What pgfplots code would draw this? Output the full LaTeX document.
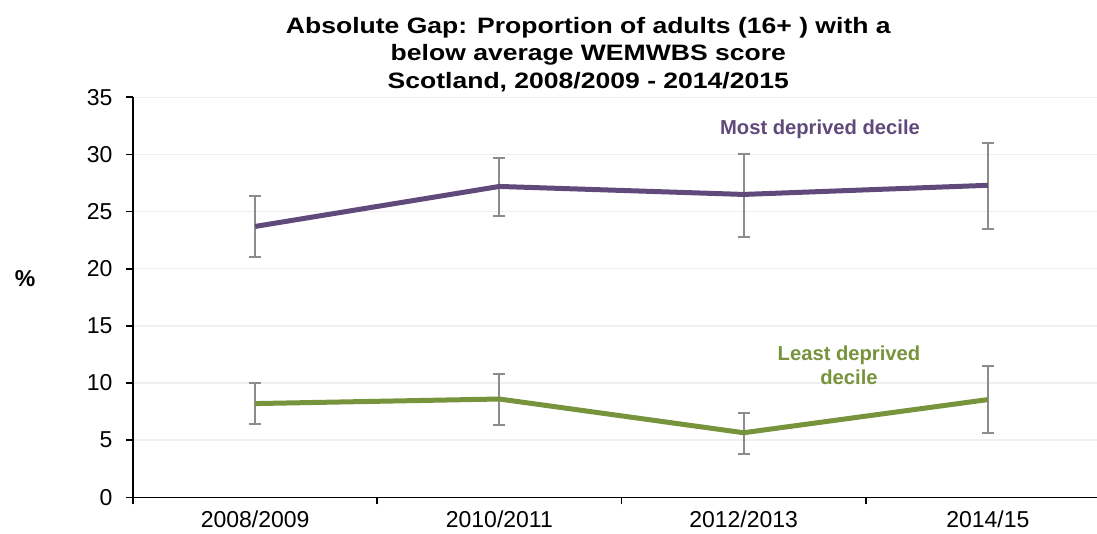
\documentclass[border=0pt]{standalone}
\usepackage{fontspec}
\setmainfont{Liberation Sans}
\newfontfamily\titlefont[FakeStretch=1.19]{Liberation Sans}
\usepackage{pgfplots}
\usepackage{pgfplotstable}
\pgfplotsset{compat=1.18}
\definecolor{mostc}{HTML}{604A7B}
\definecolor{leastc}{HTML}{77933C}
\definecolor{errc}{HTML}{8C8C8C}
\definecolor{gridc}{HTML}{EFEFEF}
\pgfplotstableread{
x y ep em
0 23.7 2.7 2.7
1 27.2 2.45 2.6
2 26.5 3.5 3.7
3 27.3 3.7 3.8
}\mostdata
\pgfplotstableread{
x y ep em
0 8.2 1.8 1.75
1 8.6 2.2 2.25
2 5.65 1.7 1.85
3 8.55 2.9 2.9
}\leastdata
\begin{document}
\begin{tikzpicture}[x=1pt,y=1pt]
\useasboundingbox (0,0) rectangle (1097,533);
\begin{axis}[
  at={(133pt,35.7pt)}, anchor=south west,
  scale only axis, width=977pt, height=400pt,
  xmin=-0.5, xmax=3.5, ymin=0, ymax=35,
  axis x line*=bottom, axis y line*=left,
  axis line style={black, line width=1.6pt},
  ytick={0,5,...,35},
  ymajorgrids, major grid style={draw=gridc, line width=1.5pt},
  xtick={-0.5,0.5,1.5,2.5,3.5}, xticklabels={},
  extra x ticks={0,1,2,3},
  extra x tick labels={2008/2009,2010/2011,2012/2013,2014/15},
  extra x tick style={major tick length=0pt, xticklabel style={yshift=-10pt}},
  tick align=outside, major tick length=7pt,
  tick style={black, line width=1.6pt},
  ticklabel style={font=\fontsize{23}{27}\selectfont},
  yticklabel style={xshift=-10pt},
  /pgf/number format/assume math mode=true,
  clip=false,
]
\addplot[draw=none, mark=none, forget plot,
  error bars/.cd, y dir=both, y explicit,
  error bar style={errc, line width=2.1pt},
  error mark options={errc, rotate=90, mark size=6pt, line width=2.1pt}]
  table[x=x, y=y, y error plus=ep, y error minus=em] {\mostdata};
\addplot[draw=none, mark=none, forget plot,
  error bars/.cd, y dir=both, y explicit,
  error bar style={errc, line width=2.1pt},
  error mark options={errc, rotate=90, mark size=6pt, line width=2.1pt}]
  table[x=x, y=y, y error plus=ep, y error minus=em] {\leastdata};
\addplot[mostc, line width=5pt, line join=round, mark=none] table[x=x, y=y] {\mostdata};
\addplot[leastc, line width=5pt, line join=round, mark=none] table[x=x, y=y] {\leastdata};
\end{axis}
\begin{scope}[every node/.style={inner sep=0pt}]
\node[anchor=base, font={\titlefont\bfseries\fontsize{22.3}{26}\selectfont}] at (588.3, 499.7) {Absolute Gap: Proportion of adults (16+ ) with a};
\node[anchor=base, font={\titlefont\bfseries\fontsize{22.3}{26}\selectfont}] at (588.3, 472) {below average WEMWBS score};
\node[anchor=base, font={\titlefont\bfseries\fontsize{22.3}{26}\selectfont}] at (588.3, 444) {Scotland, 2008/2009 - 2014/2015};
\node[anchor=base, text=mostc, font={\bfseries\fontsize{20.2}{24}\selectfont}] at (820, 398.7) {Most deprived decile};
\node[anchor=base, text=leastc, font={\bfseries\fontsize{20.2}{24}\selectfont}] at (849, 172) {Least deprived};
\node[anchor=base, text=leastc, font={\bfseries\fontsize{20.2}{24}\selectfont}] at (849, 148) {decile};
\node[anchor=base, font={\bfseries\fontsize{23}{27}\selectfont}] at (25, 246) {\%};
\end{scope}
\end{tikzpicture}
\end{document}
